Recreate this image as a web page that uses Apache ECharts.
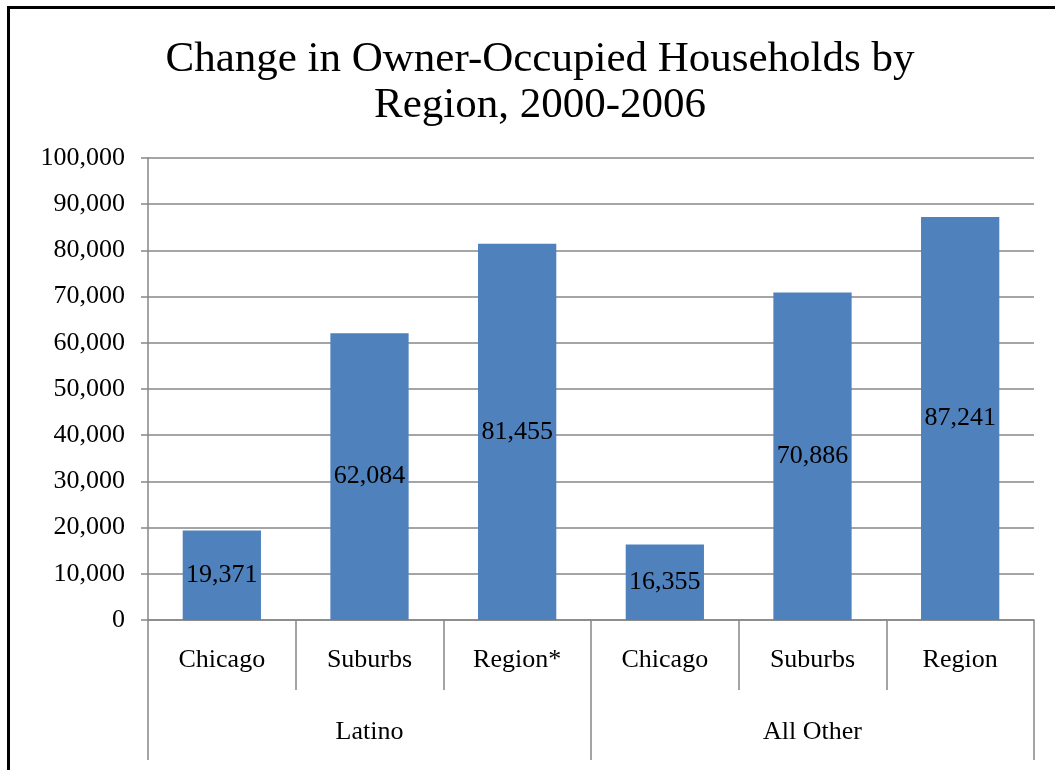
<!DOCTYPE html>
<html>
<head>
<meta charset="utf-8">
<script src="https://cdn.jsdelivr.net/npm/echarts@6/dist/echarts.min.js"></script>
<style>
  html, body { margin: 0; padding: 0; background: #fff; }
  #main { width: 1055px; height: 770px; }
</style>
</head>
<body>
<div id="main"></div>
<script>
// data
var places = ['Chicago', 'Suburbs', 'Region*', 'Chicago', 'Suburbs', 'Region'];
var groups = ['Latino', 'All Other'];
var households = [19371, 62084, 81455, 16355, 70886, 87241];

var serif = '"Liberation Serif", "DejaVu Serif", serif';
var gray = '#878787';

function fmt(v) {
    return String(v).replace(/\B(?=(\d{3})+(?!\d))/g, ',');
}

var myChart = echarts.init(document.getElementById('main'));
var option = {
    animation: false,
    backgroundColor: '#fff',
    title: {
        text: 'Change in Owner-Occupied Households by\nRegion, 2000-2006',
        left: 535,
        top: 32,
        textAlign: 'center',
        textStyle: {
            fontFamily: serif,
            fontWeight: 'normal',
            fontSize: 43,
            lineHeight: 46,
            color: '#000'
        }
    },
    graphic: [
        {
            type: 'rect',
            shape: { x: 8.5, y: 7.5, width: 1100, height: 820 },
            style: { fill: 'none', stroke: '#000', lineWidth: 3 },
            silent: true
        }
    ],
    grid: { left: 148, right: 21, top: 158, bottom: 150 },
    xAxis: [
        {
            type: 'category',
            data: places,
            position: 'bottom',
            boundaryGap: true,
            axisLine: { show: true, lineStyle: { color: gray, width: 1.5 } },
            axisTick: { show: true, alignWithLabel: false, length: 70, interval: 0, lineStyle: { color: gray, width: 1.5 } },
            axisLabel: { interval: 0, margin: 27, fontFamily: serif, fontSize: 26, color: '#000' }
        },
        {
            type: 'category',
            data: groups,
            position: 'bottom',
            boundaryGap: true,
            axisLine: { show: false },
            axisTick: { show: true, alignWithLabel: false, length: 140, interval: 0, lineStyle: { color: gray, width: 1.5 } },
            axisLabel: { interval: 0, margin: 99, fontFamily: serif, fontSize: 26, color: '#000' }
        }
    ],
    yAxis: {
        type: 'value',
        min: 0,
        max: 100000,
        interval: 10000,
        axisLine: { show: true, lineStyle: { color: gray, width: 1.5 } },
        axisTick: { show: true, length: 7, lineStyle: { color: gray, width: 1.5 } },
        splitLine: { lineStyle: { color: gray, width: 1.5 } },
        axisLabel: {
            margin: 23,
            fontFamily: serif,
            fontSize: 26,
            color: '#000',
            formatter: function (v) { return fmt(v); }
        }
    },
    series: [
        {
            name: 'Households',
            type: 'bar',
            xAxisIndex: 0,
            data: households,
            barWidth: '53%',
            itemStyle: { color: '#4F81BD' },
            label: {
                show: true,
                position: 'inside',
                fontFamily: serif,
                fontSize: 26,
                color: '#000',
                formatter: function (p) { return fmt(p.value); }
            }
        }
    ]
};
myChart.setOption(option);
</script>
</body>
</html>
